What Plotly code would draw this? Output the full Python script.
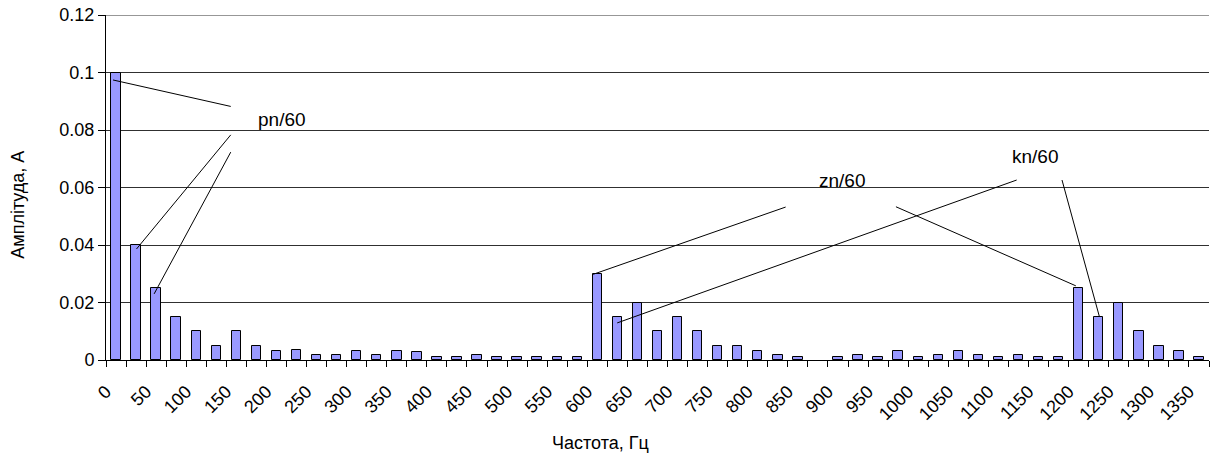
import plotly.graph_objects as go

freqs = [str(f) for f in range(0, 1351, 25)]
amplitudes = [
    0.1, 0.04, 0.025, 0.015, 0.01, 0.005, 0.01, 0.005, 0.003, 0.0035,
    0.0017, 0.0017, 0.003, 0.0017, 0.003, 0.0028, 0.001, 0.001, 0.0017, 0.001,
    0.001, 0.001, 0.001, 0.001, 0.03, 0.015, 0.02, 0.01, 0.015, 0.01,
    0.005, 0.005, 0.003, 0.0017, 0.001, None, 0.001, 0.0017, 0.001, 0.003,
    0.001, 0.0017, 0.003, 0.0017, 0.001, 0.0017, 0.001, 0.001, 0.025, 0.015,
    0.02, 0.01, 0.005, 0.003, 0.001,
]
tick_text = [f if i % 2 == 0 else "" for i, f in enumerate(freqs)]

# callout labels: (text, x index, y value)
labels = [("pn/60", 8.3, 0.0836), ("zn/60", 36.2, 0.0624), ("kn/60", 45.8, 0.0708)]
# callout leader lines: (x0, y0, x1, y1) in category-index / value units
leaders = [
    (-0.15, 0.0974, 5.72, 0.0882),
    (1.02, 0.0386, 5.72, 0.0783),
    (1.90, 0.0230, 5.72, 0.0723),
    (23.79, 0.0298, 33.39, 0.0532),
    (24.99, 0.0129, 44.91, 0.0626),
    (38.89, 0.0533, 47.86, 0.0258),
    (47.17, 0.0626, 49.03, 0.0152),
]

font_family = "Liberation Sans, Arial, sans-serif"

fig = go.Figure(
    go.Bar(
        x=freqs,
        y=amplitudes,
        width=0.47,
        marker=dict(color="#9999FF", line=dict(color="#000000", width=1)),
    )
)

for x0, y0, x1, y1 in leaders:
    fig.add_shape(type="line", xref="x", yref="y", x0=x0, y0=y0, x1=x1, y1=y1,
                  line=dict(color="#000000", width=1))

for text, x, y in labels:
    fig.add_annotation(text=text, x=x, y=y, xref="x", yref="y", showarrow=False,
                       font=dict(size=19, color="#000000", family=font_family))

# axis titles
fig.add_annotation(text="Частота, Гц", xref="paper", yref="paper", x=0.448, y=-0.24,
                   showarrow=False, xanchor="center", yanchor="middle",
                   font=dict(size=18, color="#000000", family=font_family))
fig.add_annotation(text="Амплітуда, А", xref="paper", yref="paper", x=-0.0798, y=0.45,
                   showarrow=False, xanchor="center", yanchor="middle", textangle=-90,
                   font=dict(size=18, color="#000000", family=font_family))

# top gridline at 0.12
fig.add_shape(type="line", xref="paper", yref="y", x0=0, x1=1, y0=0.12, y1=0.12,
              line=dict(color="#303030", width=1))

fig.update_layout(
    width=1216,
    height=454,
    margin=dict(l=106, r=7, t=15, b=94),
    paper_bgcolor="white",
    plot_bgcolor="white",
    showlegend=False,
    font=dict(family=font_family, size=18, color="#000000"),
    bargap=0,
)
fig.update_xaxes(
    type="category",
    categoryorder="array",
    categoryarray=freqs,
    tickmode="array",
    tickvals=freqs,
    ticktext=tick_text,
    tickangle=-45,
    tickson="boundaries",
    ticks="outside",
    ticklen=6,
    tickcolor="#000000",
    ticklabelshift=-10,
    ticklabelstandoff=13,
    showline=True,
    linecolor="#000000",
    linewidth=1,
    showgrid=False,
    range=[-0.5, 54.5],
    automargin=False,
    tickfont=dict(size=18),
)
fig.update_yaxes(
    range=[0, 0.12],
    dtick=0.02,
    tick0=0,
    ticks="outside",
    ticklen=7,
    tickcolor="#000000",
    showline=True,
    linecolor="#000000",
    linewidth=1,
    showgrid=True,
    gridcolor="#303030",
    gridwidth=1,
    zeroline=False,
    automargin=False,
    tickfont=dict(size=18),
)

fig.write_html("out.html", config={"displayModeBar": False},
               post_script="document.body.style.margin='0px';")
